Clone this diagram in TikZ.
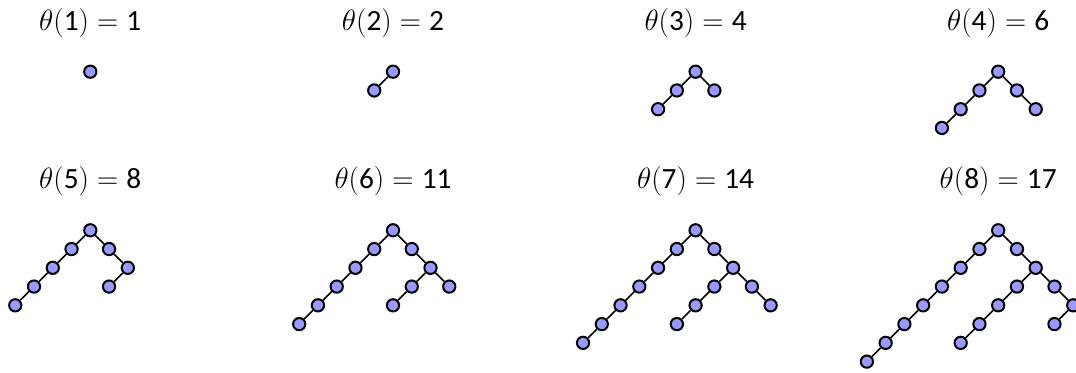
\RequirePackage{fix-cm}
\documentclass[tikz,border=0pt]{standalone}
\usepackage{fontspec}
\newfontfamily\digf{Carlito}
\newcommand{\dg}[1]{\mbox{\digf #1}}
\tikzset{
  vtx/.style={circle,draw,line width=1.5pt,fill=blue!40,inner sep=0pt,minimum size=9.2pt},
  edg/.style={line width=1.2pt},
  lab/.style={anchor=base,inner sep=0pt,font=\fontsize{22}{26}\selectfont}
}
\newcommand{\mytree}[5]{%
\begin{scope}[shift={(#2,#3)},x=14.07pt,y=-14.07pt]
\node[vtx] (#1r) at (0,0) {};
\foreach \n/\a/\b in {#4} \node[vtx] (#1\n) at (\a,\b) {};
\foreach \p/\c in {#5} \draw[edg] (#1\p) -- (#1\c);
\end{scope}}
\begin{document}
\begin{tikzpicture}[x=0.75pt,y=-0.75pt]
\useasboundingbox (0,0) rectangle (1076,373);
\clip (0,0) rectangle (1076,373);
% labels
\node[lab] (L1) at (90.3,30.5) {$\theta(\dg{1})=\dg{1}$};
\node[lab] (L2) at (393.0,30.5) {$\theta(\dg{2})=\dg{2}$};
\node[lab] (L3) at (695.6,30.5) {$\theta(\dg{3})=\dg{4}$};
\node[lab] (L4) at (998.2,30.5) {$\theta(\dg{4})=\dg{6}$};
\node[lab] (L5) at (90.3,189) {$\theta(\dg{5})=\dg{8}$};
\node[lab] (L6) at (393.0,189) {$\theta(\dg{6})=\dg{11}$};
\node[lab] (L7) at (695.6,189) {$\theta(\dg{7})=\dg{14}$};
\node[lab] (L8) at (998.2,189) {$\theta(\dg{8})=\dg{17}$};
% tree 1
\begin{scope}[shift={(90.3,71.7)}]
\node[vtx] (Ar) at (0,0) {};
\end{scope}
% tree 2
\mytree{B}{393.0}{71.7}{l1/-1/1}{r/l1}
% tree 3
\mytree{C}{695.6}{71.7}{l1/-1/1,l2/-2/2,a/1/1}{r/l1,l1/l2,r/a}
% tree 4
\mytree{D}{998.2}{71.7}{l1/-1/1,l2/-2/2,l3/-3/3,a/1/1,b/2/2}{r/l1,l1/l2,l2/l3,r/a,a/b}
% tree 5
\mytree{E}{90.3}{230.3}{l1/-1/1,l2/-2/2,l3/-3/3,l4/-4/4,a/1/1,b/2/2,c/1/3}{r/l1,l1/l2,l2/l3,l3/l4,r/a,a/b,b/c}
% tree 6
\mytree{F}{393.0}{230.3}{l1/-1/1,l2/-2/2,l3/-3/3,l4/-4/4,l5/-5/5,a/1/1,b/2/2,c/1/3,d/0/4,g/3/3}{r/l1,l1/l2,l2/l3,l3/l4,l4/l5,r/a,a/b,b/c,c/d,b/g}
% tree 7
\mytree{G}{695.6}{230.3}{l1/-1/1,l2/-2/2,l3/-3/3,l4/-4/4,l5/-5/5,l6/-6/6,a/1/1,b/2/2,c/1/3,d/0/4,e/-1/5,g/3/3,h/4/4}{r/l1,l1/l2,l2/l3,l3/l4,l4/l5,l5/l6,r/a,a/b,b/c,c/d,d/e,b/g,g/h}
% tree 8
\mytree{H}{998.2}{230.3}{l1/-1/1,l2/-2/2,l3/-3/3,l4/-4/4,l5/-5/5,l6/-6/6,l7/-7/7,a/1/1,b/2/2,c/1/3,d/0/4,e/-1/5,f/-2/6,g/3/3,h/4/4,i/3/5}{r/l1,l1/l2,l2/l3,l3/l4,l4/l5,l5/l6,l6/l7,r/a,a/b,b/c,c/d,d/e,e/f,b/g,g/h,h/i}
\end{tikzpicture}
\end{document}
